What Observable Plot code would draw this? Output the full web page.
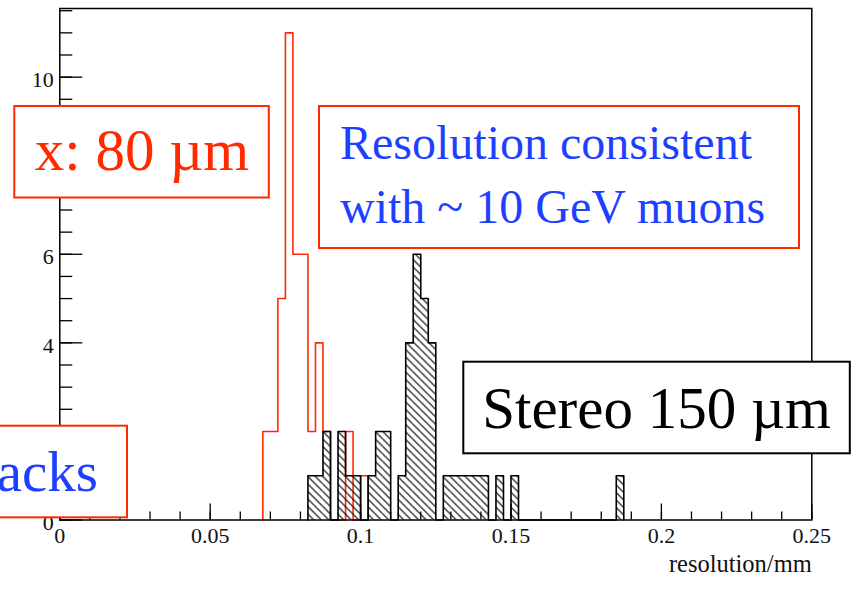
<!DOCTYPE html>
<html>
<head>
<meta charset="utf-8">
<script src="https://cdn.jsdelivr.net/npm/d3@7"></script>
<script src="https://cdn.jsdelivr.net/npm/@observablehq/plot@0.6"></script>
<style>
  html, body { margin: 0; padding: 0; background: #fff; }
  #chart { width: 854px; height: 589px; overflow: hidden; }
  #chart svg { display: block; }
</style>
</head>
<body>
<div id="chart"></div>
<script>
// Histogram bin width (mm)
const binWidth = 0.0025;

// x-strip residual resolution: lower bin edges and entries (red outline)
const stripLow    = [0.0675, 0.07, 0.0725, 0.075, 0.0775, 0.08, 0.0825, 0.085, 0.0875, 0.095, 0.1];
const stripCounts = [2, 2, 5, 11, 6, 6, 2, 4, 2, 2, 1];

// stereo resolution: lower bin edges and entries (black, hatched)
const stereoLow    = [0.0825, 0.085, 0.0875, 0.0925, 0.095, 0.0975, 0.1025, 0.105, 0.1075,
                      0.1125, 0.115, 0.1175, 0.12, 0.1225, 0.1275, 0.13, 0.1325, 0.135,
                      0.1375, 0.14, 0.145, 0.15, 0.185];
const stereoCounts = [1, 1, 2, 2, 1, 1, 1, 2, 2,
                      1, 4, 6, 5, 4, 1, 1, 1, 1,
                      1, 1, 1, 1, 1];

// axis ticks and labels (the 2 and 8 labels sit under the text boxes)
const xMajor = [0, 0.05, 0.1, 0.15, 0.2, 0.25];
const xTickLabels = ["0", "0.05", "0.1", "0.15", "0.2", "0.25"];
const xMinor = d3.ticks(0, 0.25, 25);
const yMajor = [0, 2, 4, 6, 8, 10];
const yLabelled = [0, 4, 6, 10];
const yTickLabels = ["0", "4", "6", "10"];
const yMinor = d3.ticks(0, 11.5, 23);
const xTitle = "resolution/mm";
const yMax = 11.55;

const RED = "#ff2a00";
const BLUE = "#1f3fff";

// pad geometry (pixels)
const W = 854, H = 589;
const M = {left: 59.3, right: 42.7, top: 8, bottom: 69.5};
const innerW = W - M.left - M.right;
const innerH = H - M.top - M.bottom;

// expand sparse bins into a contiguous run (empty bins included)
function fullBins(low, counts) {
  const byIndex = new Map(low.map((x, i) => [Math.round(x / binWidth), counts[i]]));
  const k0 = d3.min(byIndex.keys()), k1 = d3.max(byIndex.keys());
  const bins = [];
  for (let k = k0; k <= k1; ++k) {
    bins.push({x1: k * binWidth, x2: (k + 1) * binWidth, n: byIndex.get(k) ?? 0});
  }
  return bins;
}

// ROOT-style step outline of a histogram
function outline(bins) {
  const pts = [{x: bins[0].x1, y: 0}];
  for (const b of bins) pts.push({x: b.x1, y: b.n});
  pts.push({x: bins[bins.length - 1].x2, y: 0});
  return pts;
}

const stripBins = fullBins(stripLow, stripCounts);
const stereoBins = fullBins(stereoLow, stereoCounts);

// inward-pointing tick marks of a given pixel length
const xTicks = (values, len) => Plot.ruleX(values, {x: d => d, insetTop: innerH - len, stroke: "black", strokeWidth: 1.3});
const yTicks = (values, len) => Plot.ruleY(values, {y: d => d, insetRight: innerW - len, stroke: "black", strokeWidth: 1.3});

const svg = Plot.plot({
  width: W,
  height: H,
  marginLeft: M.left,
  marginRight: M.right,
  marginTop: M.top,
  marginBottom: M.bottom,
  style: {background: "white", fontFamily: "Liberation Serif", fontSize: "22px", color: "black"},
  x: {domain: [0, 0.25], axis: null},
  y: {domain: [0, yMax], axis: null},
  marks: [
    Plot.line(outline(stripBins), {x: "x", y: "y", curve: "step-after", stroke: RED, strokeWidth: 1.6}),
    Plot.rectY(stereoBins.filter(d => d.n > 0), {x1: "x1", x2: "x2", y: "n", fill: "url(#hatch)"}),
    Plot.line(outline(stereoBins), {x: "x", y: "y", curve: "step-after", stroke: "black", strokeWidth: 1.6}),
    Plot.frame({stroke: "black", strokeWidth: 1.5}),
    xTicks(xMinor, 8),
    xTicks(xMajor, 16),
    yTicks(yMinor, 13),
    yTicks(yMajor, 23),
    Plot.text(xMajor, {x: d => d, y: 0, text: (d, i) => xTickLabels[i], lineAnchor: "bottom", dy: 23, fontSize: 22, fill: "#111"}),
    Plot.text(yLabelled, {x: 0, y: d => d, text: (d, i) => yTickLabels[i], textAnchor: "end", dx: -6, dy: 3, fontSize: 22, fill: "#111"}),
    Plot.text([xTitle], {frameAnchor: "bottom-right", textAnchor: "end", lineAnchor: "bottom", dy: 52, fontSize: 24.5, fill: "#111"})
  ]
});

// diagonal hatch used by the stereo histogram fill
const defs = d3.select(svg).insert("defs", ":first-child");
defs.append("pattern")
    .attr("id", "hatch")
    .attr("patternUnits", "userSpaceOnUse")
    .attr("width", 5.3)
    .attr("height", 5.3)
    .attr("patternTransform", "rotate(-45)")
  .append("line")
    .attr("x1", 2.65).attr("y1", -1)
    .attr("x2", 2.65).attr("y2", 6.3)
    .attr("stroke", "black")
    .attr("stroke-width", 1.1);

// text boxes drawn over the pad
const notes = d3.select(svg).append("g")
  .attr("font-family", "Liberation Serif");

function box(x, y, w, h, stroke) {
  notes.append("rect")
    .attr("x", x).attr("y", y).attr("width", w).attr("height", h)
    .attr("fill", "white").attr("stroke", stroke).attr("stroke-width", 2);
}
function label(str, x, y, size, fill, anchor) {
  notes.append("text")
    .attr("x", x).attr("y", y)
    .attr("font-size", size).attr("fill", fill)
    .attr("text-anchor", anchor)
    .text(str);
}

box(14.3, 106, 254.5, 91.5, RED);
label("x: 80 µm", 142, 170, 59, RED, "middle");

box(319, 106, 480, 142, RED);
label("Resolution consistent", 340, 159, 48, BLUE, "start");
label("with ~ 10 GeV muons", 340, 222.7, 48, BLUE, "start");

box(-30, 425.7, 157, 91.6, RED);
label("acks", 98, 490.7, 57, BLUE, "end");

box(463.3, 361.7, 386.5, 91.6, "black");
label("Stereo 150 µm", 656.5, 427.5, 59, "black", "middle");

document.getElementById("chart").appendChild(svg);
</script>
</body>
</html>
